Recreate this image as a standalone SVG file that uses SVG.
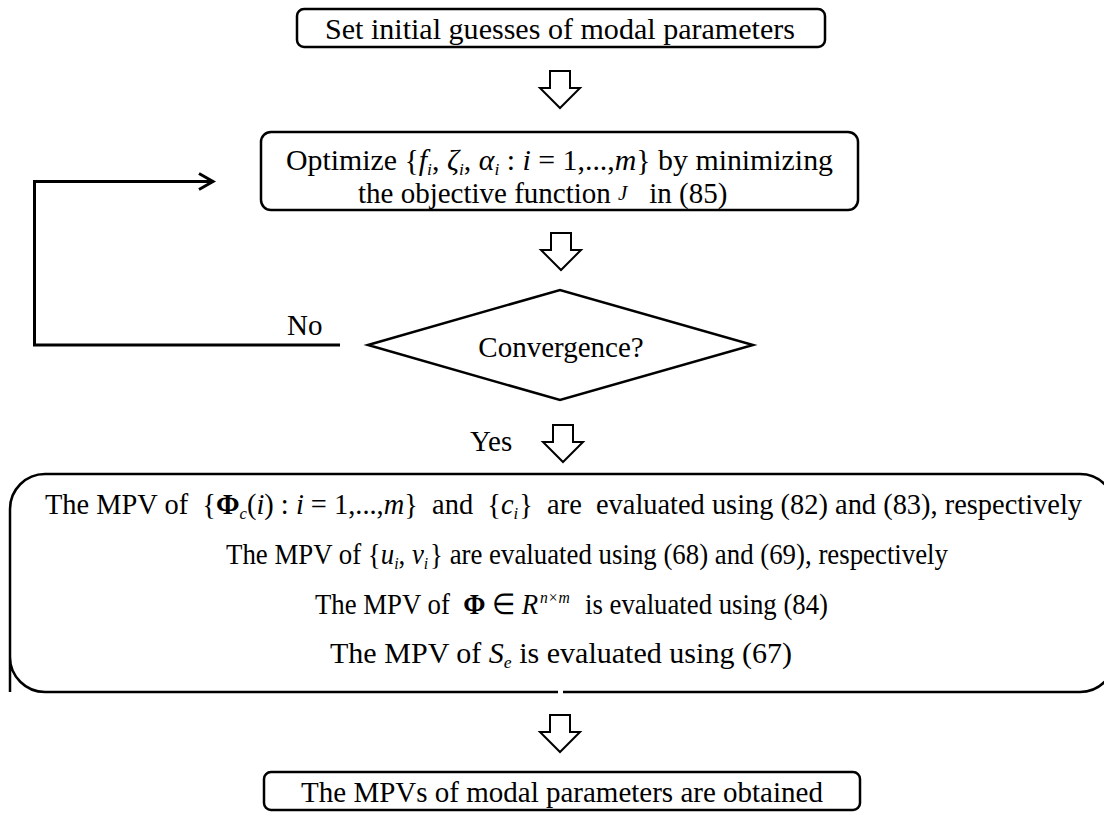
<svg xmlns="http://www.w3.org/2000/svg" width="1104" height="813" viewBox="0 0 1104 813">
<style>
.box{fill:none;stroke:#000;stroke-width:2.5}
.blk{fill:#fff;stroke:#000;stroke-width:2;stroke-linejoin:miter}
.line{fill:none;stroke:#000;stroke-width:3}
.t{font-family:"Liberation Serif","Times New Roman",serif;font-size:29px;fill:#000}
.i{font-style:italic}
.b{font-weight:bold}
.s{font-size:17px;font-style:italic}
</style>
<defs>
<path id="harrow" d="M-10,0 H10 V17 H20 L0,37 L-20,17 H-10 Z"/>
</defs>
<rect width="1104" height="813" fill="#fff"/>

<g id="connectors">
<path class="line" d="M340,345 H34.5 V181.5 H212"/>
<polyline class="line" points="199,173.5 213,181.5 199,189.5"/>
<use href="#harrow" class="blk" x="560" y="71"/>
<use href="#harrow" class="blk" x="561" y="233"/>
<use href="#harrow" class="blk" x="563" y="425"/>
<use href="#harrow" class="blk" x="560" y="715"/>
<text class="t" x="287" y="335">No</text>
<text class="t" x="470" y="451">Yes</text>
</g>

<g id="start">
<rect class="box" x="297" y="9" width="528" height="38" rx="7"/>
<text class="t" x="560" y="39" text-anchor="middle" font-size="30" textLength="470" lengthAdjust="spacingAndGlyphs">Set initial guesses of modal parameters</text>
</g>

<g id="optimize">
<rect class="box" x="261" y="132" width="597" height="78" rx="10"/>
<text class="t" x="286" y="170" textLength="547" lengthAdjust="spacingAndGlyphs">Optimize {<tspan class="i">f</tspan><tspan class="s" dy="5">i</tspan><tspan dy="-5">, </tspan><tspan class="i">ζ</tspan><tspan class="s" dy="5">i</tspan><tspan dy="-5">, </tspan><tspan class="i">α</tspan><tspan class="s" dy="5">i</tspan><tspan dy="-5"> : </tspan><tspan class="i">i</tspan> = 1,...,<tspan class="i">m</tspan>} by minimizing</text>
<text class="t" x="358" y="203">the objective function <tspan class="i" font-size="21" dy="-3">J</tspan><tspan dy="3">&#160;&#160;&#160;in (85)</tspan></text>
</g>

<g id="convergence">
<polygon class="box" points="368,345 560,290 753,345 560,400"/>
<text class="t" x="561" y="357" text-anchor="middle">Convergence?</text>
</g>

<g id="evaluate">
<path class="box" d="M10,692 V509 A35,35 0 0 1 45,474 H1080 A35,35 0 0 1 1115,509 V657 A35,35 0 0 1 1080,692 H563 M558,692 H45 A35,35 0 0 1 10,657"/>
<text class="t" x="45" y="514" font-size="28.5" textLength="1037" lengthAdjust="spacingAndGlyphs">The MPV of&#160; {<tspan class="b">Φ</tspan><tspan class="s" dy="5">c</tspan><tspan dy="-5">(</tspan><tspan class="i">i</tspan>) : <tspan class="i">i</tspan> = 1,...,<tspan class="i">m</tspan>}&#160; and&#160; {<tspan class="i">c</tspan><tspan class="s" dy="5">i</tspan><tspan dy="-5" dx="1">}&#160; are&#160; evaluated using (82) and (83), respectively</tspan></text>
<text class="t" x="226" y="564" font-size="28.5" textLength="722" lengthAdjust="spacingAndGlyphs">The MPV of {<tspan class="i">u</tspan><tspan class="s" dy="5">i</tspan><tspan dy="-5">, </tspan><tspan class="i">v</tspan><tspan class="s" dy="5">i</tspan><tspan dy="-5" dx="2">} are evaluated using (68) and (69), respectively</tspan></text>
<text class="t" x="315" y="614" font-size="28.5" textLength="513" lengthAdjust="spacingAndGlyphs">The MPV of&#160; <tspan class="b">Φ</tspan> ∈ <tspan class="i">R</tspan><tspan class="s" dy="-11" dx="2">n×m</tspan><tspan dy="11" dx="2">&#160; is evaluated using (84)</tspan></text>
<text class="t" x="330" y="663" font-size="28.5" textLength="462" lengthAdjust="spacingAndGlyphs">The MPV of <tspan class="i">S</tspan><tspan class="s" dy="5">e</tspan><tspan dy="-5"> is evaluated using (67)</tspan></text>
</g>

<g id="result">
<rect class="box" x="264" y="772" width="596" height="38" rx="7"/>
<text class="t" x="562" y="802" text-anchor="middle">The MPVs of modal parameters are obtained</text>
</g>
</svg>
